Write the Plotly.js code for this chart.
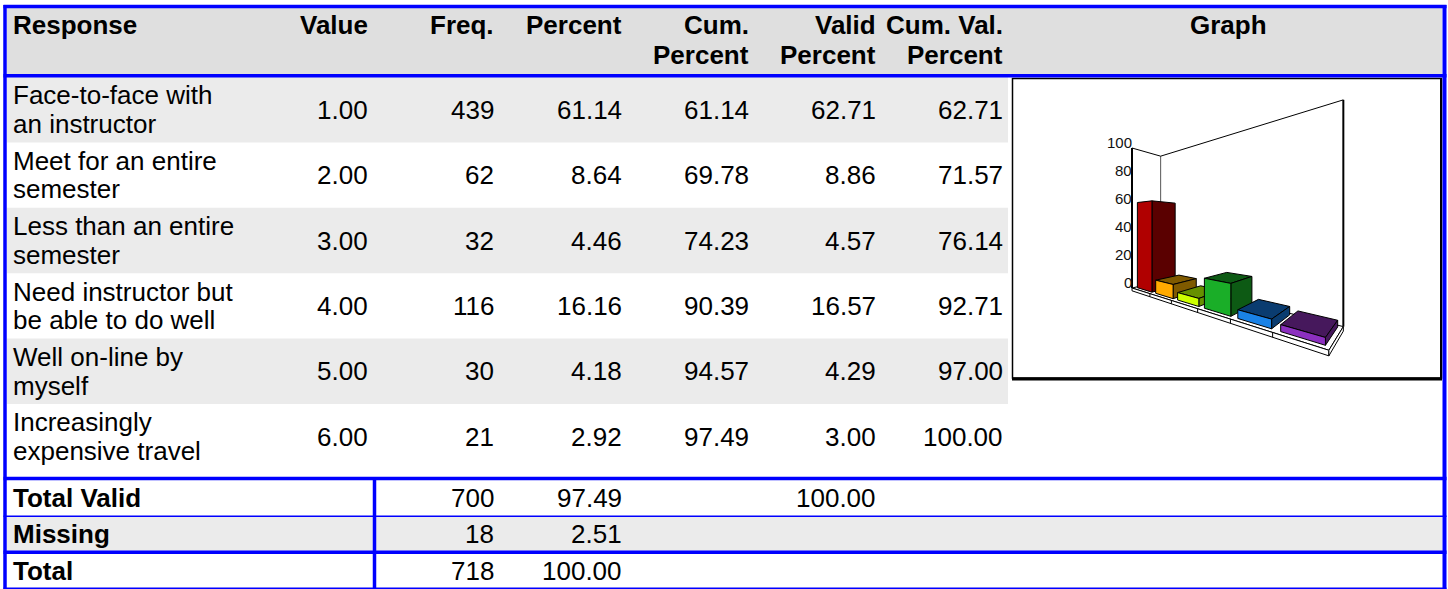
<!DOCTYPE html>
<html>
<head>
<meta charset="utf-8">
<script src="https://cdn.plot.ly/plotly-3.0.1.min.js"></script>
<style>
  html, body { margin: 0; padding: 0; background: #ffffff; }
  #chart { width: 1448px; height: 589px; }
</style>
</head>
<body>
<div id="chart"></div>
<script>
// ---------------- DATA ----------------
const headerLine1 = ["Response", "Value", "Freq.", "Percent", "Cum.", "Valid", "Cum. Val.", "Graph"];
const headerLine2 = ["", "", "", "", "Percent", "Percent", "Percent", ""];
const responses = [
  ["Face-to-face with", "an instructor"],
  ["Meet for an entire", "semester"],
  ["Less than an entire", "semester"],
  ["Need instructor but", "be able to do well"],
  ["Well on-line by", "myself"],
  ["Increasingly", "expensive travel"]
];
const values = [1, 2, 3, 4, 5, 6];
const freq = [439, 62, 32, 116, 30, 21];
const percent = [61.14, 8.64, 4.46, 16.16, 4.18, 2.92];
const cumPercent = [61.14, 69.78, 74.23, 90.39, 94.57, 97.49];
const validPercent = [62.71, 8.86, 4.57, 16.57, 4.29, 3.00];
const cumValidPercent = [62.71, 71.57, 76.14, 92.71, 97.00, 100.00];
const totalLabels = ["Total Valid", "Missing", "Total"];
const totalFreq = [700, 18, 718];
const totalPercent = [97.49, 2.51, 100.00];
const totalValidPercent = [100.00, null, null];
const graphTicks = [0, 20, 40, 60, 80, 100];

// ---------------- STYLE / LAYOUT ----------------
const FONT = "Liberation Sans, Arial, Helvetica, sans-serif";
const NARROW = "Liberation Sans Narrow, Arial Narrow, Liberation Sans, sans-serif";
const FS = 26;
const BLUE = "#0000ff";
const barFront = ["#b00000", "#ffaa00", "#ccff00", "#1aae28", "#1a82e6", "#8c30c0"];
const barDark  = ["#5a0000", "#7f5a00", "#669000", "#0d5a14", "#0a3c70", "#46185c"];

const colRight = [null, 369, 495, 623, 750, 877, 1004];
const textLeft = 12;
const graphCenter = 1228;
const rowTop = 77, rowH = 65.4;
const hdrY1 = 24.5, hdrY2 = 55;
const lineGap = 14.3;
const botRows = [{y0: 480, y1: 516}, {y0: 516, y1: 552}, {y0: 553, y1: 588}];

const shapes = [];
const annotations = [];
const traces = [];

function rect(x0, y0, x1, y1, fill, lineColor, lw, layer) {
  shapes.push({type: "rect", xref: "x", yref: "y", x0, y0, x1, y1, fillcolor: fill,
    line: {color: lineColor || fill, width: lw || 0}, layer: layer || "below"});
}
function hline(x0, x1, y, color, w) {
  shapes.push({type: "line", xref: "x", yref: "y", x0, x1, y0: y, y1: y, line: {color, width: w}, layer: "above"});
}
function vline(x, y0, y1, color, w) {
  shapes.push({type: "line", xref: "x", yref: "y", x0: x, x1: x, y0, y1, line: {color, width: w}, layer: "above"});
}
function txt(x, y, s, anchor, bold, size, family, color) {
  annotations.push({x, y, xref: "x", yref: "y", text: bold ? "<b>" + s + "</b>" : s,
    showarrow: false, xanchor: anchor, yanchor: "middle", borderpad: 0,
    font: {family: family || FONT, size: size || FS, color: color || "#000000"}});
}

// ---- fills ----
rect(7, 8, 1442, 74.5, "#dfdfdf");
for (let i = 0; i < responses.length; i++) {
  if (i % 2 === 0) rect(7, rowTop + i * rowH, 1008, rowTop + (i + 1) * rowH, "#ebebeb");
}
rect(7, 517, 1442, 551, "#ebebeb");
// graph box
rect(1012.5, 78.5, 1441.5, 378, "#ffffff", "#000000", 1.5);
hline(1012, 1442, 379, "#000000", 3);
vline(1441, 78, 380, "#000000", 2);

// ---- header text ----
const hdrX = [textLeft, colRight[1], colRight[2], colRight[3], colRight[4], colRight[5], colRight[6], graphCenter];
for (let c = 0; c < headerLine1.length; c++) {
  const anchor = c === 0 ? "left" : (c === 7 ? "center" : "right");
  txt(hdrX[c], hdrY1, headerLine1[c], anchor, true);
  if (headerLine2[c]) txt(hdrX[c], hdrY2, headerLine2[c], anchor, true);
}

// ---- data rows ----
const cols = [values, freq, percent, cumPercent, validPercent, cumValidPercent];
const fmt = [v => v.toFixed(2), v => String(v), v => v.toFixed(2), v => v.toFixed(2), v => v.toFixed(2), v => v.toFixed(2)];
for (let i = 0; i < responses.length; i++) {
  const cy = rowTop + (i + 0.5) * rowH;
  txt(textLeft, cy - lineGap, responses[i][0], "left");
  txt(textLeft, cy + lineGap, responses[i][1], "left");
  for (let c = 0; c < cols.length; c++) txt(colRight[c + 1], cy, fmt[c](cols[c][i]), "right");
}

// ---- totals ----
for (let i = 0; i < totalLabels.length; i++) {
  const cy = (botRows[i].y0 + botRows[i].y1) / 2;
  txt(textLeft, cy, totalLabels[i], "left", true);
  txt(colRight[2], cy, String(totalFreq[i]), "right");
  txt(colRight[3], cy, totalPercent[i].toFixed(2), "right");
  if (totalValidPercent[i] !== null) txt(colRight[5], cy, totalValidPercent[i].toFixed(2), "right");
}

// ---- blue rules ----
hline(3.5, 1446.5, 6.5, BLUE, 3.5);
vline(5, 5, 589, BLUE, 3.5);
vline(1444.5, 5, 589, BLUE, 4);
hline(3.5, 1446.5, 75.8, BLUE, 3.5);
hline(3.5, 1446.5, 478.5, BLUE, 3.5);
hline(3.5, 1446.5, 516.3, BLUE, 1.5);
hline(3.5, 1446.5, 552.2, BLUE, 3.5);
hline(3.5, 1446.5, 588.2, BLUE, 1.5);
vline(374.5, 478, 589, BLUE, 3.5);

// ---------------- 3D BAR GRAPH (two-point perspective) ----------------
const cam = {cx: 1200, vpx: 935, vpz: 1405, yh: 225.7, ox: 1132, oyMin: 288, oyMax: 148};
const yMax = graphTicks[graphTicks.length - 1];
const f = Math.sqrt((cam.cx - cam.vpx) * (cam.vpz - cam.cx));
function nrm(a) { const l = Math.hypot(a[0], a[1]); return [a[0] / l, a[1] / l]; }
const u = nrm([cam.cx - cam.vpx, -f]);
const v = nrm([cam.vpz - cam.cx, f]);
const zc0 = f * yMax / (cam.oyMin - cam.oyMax);
const hCam = (cam.oyMin - cam.yh) * zc0 / f;
const xc0 = (cam.ox - cam.cx) * zc0 / f;
function proj(X, Y, Z) {
  const xc = xc0 + u[0] * X + v[0] * Z;
  const zc = zc0 + u[1] * X + v[1] * Z;
  return [cam.cx + f * xc / zc, cam.yh - f * (Y - hCam) / zc];
}
const slotW = 21, nCat = percent.length, Lx = slotW * nCat, Zm = 26, slab = 2;
const barX0 = 2.2, barX1 = 19.2, barZ0 = 3, barZ1 = 24;

function poly(pts, fill, lineColor, lw) {
  const p = pts.map(q => proj(q[0], q[1], q[2]));
  const xs = p.map(q => q[0]), ys = p.map(q => q[1]);
  xs.push(xs[0]); ys.push(ys[0]);
  traces.push({type: "scatter", mode: "lines", x: xs, y: ys, fill: "toself", fillcolor: fill,
    line: {color: lineColor, width: lw}, hoverinfo: "skip", showlegend: false});
}
function seg(a, b, color, w) {
  const p = proj(a[0], a[1], a[2]), q = proj(b[0], b[1], b[2]);
  traces.push({type: "scatter", mode: "lines", x: [p[0], q[0]], y: [p[1], q[1]],
    line: {color, width: w}, hoverinfo: "skip", showlegend: false});
}

// walls
seg([0, 0, Zm], [0, yMax, Zm], "#555555", 1);
seg([0, yMax, 0], [0, yMax, Zm], "#000000", 1);
seg([0, yMax, Zm], [Lx, yMax, Zm], "#000000", 1);
seg([Lx, 0, Zm], [Lx, yMax, Zm], "#000000", 2);
// floor slab
poly([[0, 0, 0], [Lx, 0, 0], [Lx, 0, Zm], [0, 0, Zm]], "#ffffff", "#000000", 1);
poly([[0, 0, 0], [Lx, 0, 0], [Lx, -slab, 0], [0, -slab, 0]], "#ffffff", "#000000", 1);
poly([[Lx, 0, 0], [Lx, 0, Zm], [Lx, -slab, Zm], [Lx, -slab, 0]], "#ffffff", "#000000", 1);
for (let k = 1; k < nCat; k++) seg([k * slotW, 0, 0], [k * slotW, -slab, 0], "#000000", 1);
// front axis
seg([0, 0, 0], [0, yMax, 0], "#000000", 2);
for (const t of graphTicks) {
  const p = proj(0, t, 0);
  txt(p[0] + 0.5, p[1] - 5.5, String(t), "right", false, 15, NARROW, "#111111");
}
// bars, far to near
for (let k = 0; k < nCat; k++) {
  const val = percent[k];
  const x0 = k * slotW + barX0, x1 = k * slotW + barX1;
  if (val < hCam) poly([[x0, val, barZ0], [x1, val, barZ0], [x1, val, barZ1], [x0, val, barZ1]], barDark[k], "#000000", 1);
  poly([[x1, 0, barZ0], [x1, 0, barZ1], [x1, val, barZ1], [x1, val, barZ0]], barDark[k], "#000000", 1);
  poly([[x0, 0, barZ0], [x1, 0, barZ0], [x1, val, barZ0], [x0, val, barZ0]], barFront[k], "#000000", 1);
}

const layout = {
  width: 1448, height: 589,
  margin: {l: 0, r: 0, t: 0, b: 0, pad: 0},
  paper_bgcolor: "#ffffff", plot_bgcolor: "#ffffff",
  xaxis: {range: [0, 1448], autorange: false, visible: false, fixedrange: true},
  yaxis: {range: [589, 0], autorange: false, visible: false, fixedrange: true},
  showlegend: false, hovermode: false,
  shapes, annotations
};
Plotly.newPlot("chart", traces, layout, {staticPlot: true, displayModeBar: false});
</script>
</body>
</html>
